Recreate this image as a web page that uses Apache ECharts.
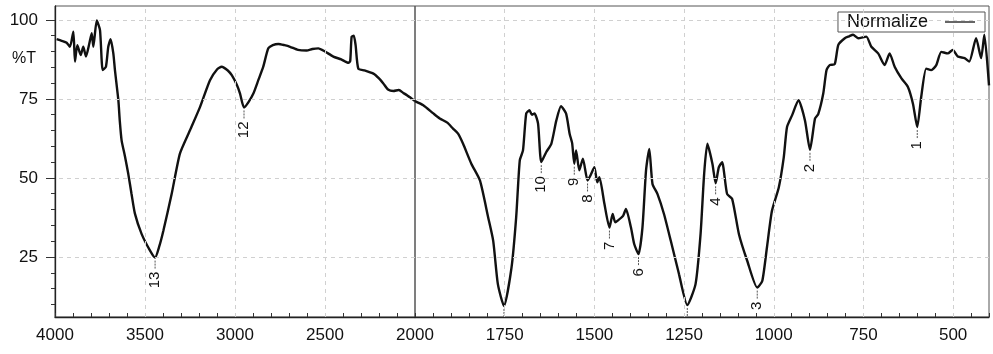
<!DOCTYPE html>
<html><head><meta charset="utf-8">
<script src="https://cdn.jsdelivr.net/npm/echarts@6/dist/echarts.min.js"></script>
<style>html,body{margin:0;padding:0;background:#fff}#c{width:993px;height:354px}</style>
</head><body><div id="c"></div>
<script>
// Wavenumber (cm-1) and %T, high-wavenumber part (4000-2000, compressed scale)
const wnHigh = [3991,3963,3935,3917,3898,3889,3876,3857,3843,3828,3809,3796,3787,3768,3750,3735,3717,3704,3691,3676,3667,3648,3640,3630,3612,3593,3575,3556,3519,3472,3444,3420,3398,3352,3306,3250,3194,3139,3100,3074,3040,3018,2990,2972,2950,2925,2898,2870,2843,2815,2790,2759,2725,2694,2650,2602,2570,2537,2500,2454,2410,2370,2360,2352,2340,2330,2315,2280,2231,2200,2176,2150,2120,2090,2065,2030,2000];
const tHigh = [93.9,93.4,92.8,91.5,96.3,86.8,92,88.9,91.5,88.4,92.6,95.8,91.5,99.8,96.8,84.1,85.2,91.5,93.9,89.4,84.1,74.6,68,61.9,57,51.3,45,38.7,32.3,27,24.8,28.5,33.3,44.9,57.7,65.1,72.5,80.9,84.3,85.2,84,82.5,79.5,76.7,72.3,74,76.7,81,85.2,91,92,92.4,92,91.5,90.5,90.3,90.8,91,90,88.4,87.5,86.4,87,94.7,95,92,84.6,84,83,81.5,79.9,78,77.5,77.8,76.9,75.6,74.3];
// Low-wavenumber part (2000-400, expanded scale)
const wnLow = [2000,1977,1950,1931,1910,1894,1880,1866,1843,1819,1796,1782,1769,1752,1731,1718,1708,1699,1690,1681,1674,1667,1657,1648,1634,1620,1606,1593,1579,1569,1562,1556,1551,1542,1532,1519,1510,1500,1492,1486,1472,1458,1449,1442,1435,1420,1412,1398,1389,1377,1366,1356,1347,1338,1324,1306,1287,1264,1241,1218,1204,1194,1185,1171,1162,1153,1144,1130,1116,1097,1074,1046,1032,1019,1005,986,972,963,949,931,913,899,885,876,862,853,844,830,820,802,790,779,765,742,728,709,691,677,663,644,626,612,600,589,575,561,547,533,515,501,487,468,455,436,422,413,400];
const tLow = [74.3,73,70.5,68.8,67.5,65.6,64,60.8,54.5,49.2,37.5,30.1,16.4,9.5,21.6,37.5,55.5,58.7,70.4,71.4,70,70.4,67.2,55,58.2,60.8,68.2,72.7,70.4,64,61,54.5,58.7,52.4,56.1,49.2,51,53.4,48.6,50.2,41.8,34.3,38.6,36,36.5,38,40.2,34.3,29.1,25.9,34.3,52.4,59.2,48.1,44.9,38.6,30.1,19.5,9.8,16.4,32.2,51.3,60.8,54.5,48.3,53.4,55,44.9,43.4,32.2,23.8,15.3,17.4,28,39.6,47,56.6,66.1,69.8,74.6,68.2,58.9,68.8,70.2,76.7,84.1,85.7,86,92.1,94.2,94.8,95.3,94.2,94.7,91.5,89.4,85.7,89.4,85.2,81.5,78.8,73.5,66.1,75.6,84.6,84.1,85.7,89.9,89.4,90.5,88.4,87.9,86.8,94.2,87.9,95.3,79.3];
// Numbered peaks
const peakWn = [600, 899, 1046, 1162, 1377, 1458, 1519, 1556, 1648, 2950, 3444];
const peakT = [66.1, 58.9, 15.3, 48.3, 25.9, 34.3, 49.2, 54.5, 55, 72.3, 24.8];
const peakLabel = ['1','2','3','4','6','7','8','9','10','12','13'];
// Marked peaks whose numbers fall below the axis
const hiddenWn = [1752, 1241];
const hiddenT = [9.5, 9.8];
// Axis ticks
const highLabels = [4000, 3500, 3000, 2500];
const lowLabels = [2000, 1750, 1500, 1250, 1000, 750, 500];
const yLabels = [25, 50, 75, 100];
const highTicks = []; for (let v = 2000; v <= 4000; v += 100) highTicks.push(v);
const lowTicks = []; for (let v = 400; v <= 2000; v += 50) lowTicks.push(v);
const yMinor = []; for (let v = 10; v <= 100; v += 5) yMinor.push(v);
const seriesName = 'Normalize';

const FONT = "'Liberation Sans', Arial, sans-serif";
const YMIN = 6, YMAX = 104.4;
const zip = (a, b) => a.map((v, i) => [v, b[i]]);

function peaksFor(lo, hi) {
  const out = [];
  peakWn.forEach((w, i) => { if (w >= lo && w <= hi) out.push([w, peakT[i], i]); });
  return out;
}
function hiddenFor(lo, hi) {
  const out = [];
  hiddenWn.forEach((w, i) => { if (w >= lo && w <= hi) out.push([w, hiddenT[i]]); });
  return out;
}
function renderPeak(params, api) {
  const p = api.coord([api.value(0), api.value(1)]);
  const txt = peakLabel[api.value(2)];
  const lead = 12;
  return { type: 'group', children: [
    { type: 'line', shape: { x1: p[0], y1: p[1] + 3, x2: p[0], y2: p[1] + lead },
      style: { stroke: '#555', lineWidth: 1, lineDash: [2, 1] } },
    { type: 'text', x: p[0], y: p[1] + lead + 2, rotation: Math.PI / 2,
      style: { text: txt, fontSize: 15, fontFamily: FONT, fill: '#111', align: 'right', verticalAlign: 'middle' } }
  ]};
}
function renderHidden(params, api) {
  const p = api.coord([api.value(0), api.value(1)]);
  const yb = params.coordSys.y + params.coordSys.height;
  return { type: 'line', shape: { x1: p[0], y1: p[1] + 3, x2: p[0], y2: yb },
    style: { stroke: '#555', lineWidth: 1, lineDash: [2, 1] } };
}
const gridLines = (xs) => ({
  silent: true, symbol: 'none', animation: false, label: { show: false },
  lineStyle: { color: '#d0d0d0', type: [4, 4], width: 1 },
  data: xs.map(v => ({ xAxis: v })).concat(yLabels.map(v => ({ yAxis: v })))
});

const chart = echarts.init(document.getElementById('c'), null, { renderer: 'canvas' });
const axisLbl = { fontSize: 17, fontFamily: FONT, color: '#111', formatter: v => String(v) };
const lineSeries = { type: 'line', symbol: 'none', smooth: 0.2,
  lineStyle: { color: '#111', width: 2.4 }, itemStyle: { color: '#111' } };
chart.setOption({
  animation: false,
  backgroundColor: '#fff',
  legend: {
    data: [seriesName], right: 8, top: 12, align: 'right', icon: 'rect',
    itemWidth: 30, itemHeight: 1.5, borderColor: '#555', borderWidth: 1,
    padding: [1, 10, 1, 9],
    itemStyle: { color: '#333', borderWidth: 0 },
    textStyle: { fontSize: 18, fontFamily: FONT, color: '#111', padding: [0, 12, 0, 0] }
  },
  graphic: [{ type: 'text', left: 12, top: 51, style: { text: '%T', fontSize: 16, fontFamily: FONT, fill: '#111' } }],
  grid: [
    { left: 55, width: 360, top: 6, bottom: 37, show: true, borderColor: '#555', borderWidth: 1, containLabel: false },
    { left: 415, right: 4, top: 6, bottom: 37, show: true, borderColor: '#555', borderWidth: 1, containLabel: false }
  ],
  xAxis: [
    { gridIndex: 0, type: 'value', min: 2000, max: 4000, inverse: true,
      axisLine: { show: true, lineStyle: { color: '#222', width: 1.3 } },
      axisTick: { show: true, inside: true, length: 4, customValues: highTicks, lineStyle: { color: '#333' } },
      axisLabel: { show: true, customValues: highLabels, margin: 10, showMinLabel: true, showMaxLabel: true, ...axisLbl },
      splitLine: { show: false } },
    { gridIndex: 1, type: 'value', min: 400, max: 2000, inverse: true,
      axisLine: { show: true, lineStyle: { color: '#222', width: 1.3 } },
      axisTick: { show: true, inside: true, length: 4, customValues: lowTicks, lineStyle: { color: '#333' } },
      axisLabel: { show: true, customValues: lowLabels, margin: 10, showMinLabel: true, showMaxLabel: true, ...axisLbl },
      splitLine: { show: false } }
  ],
  yAxis: [
    { gridIndex: 0, type: 'value', min: YMIN, max: YMAX, position: 'left',
      axisLine: { show: true, lineStyle: { color: '#222', width: 1.3 } },
      axisTick: { show: true, inside: false, length: 9, customValues: yLabels, lineStyle: { color: '#333' } },
      axisLabel: { show: true, customValues: yLabels, margin: 17, ...axisLbl },
      splitLine: { show: false } },
    { gridIndex: 0, type: 'value', min: YMIN, max: YMAX, position: 'left',
      axisLine: { show: false },
      axisTick: { show: true, inside: false, length: 4, customValues: yMinor, lineStyle: { color: '#333' } },
      axisLabel: { show: false }, splitLine: { show: false } },
    { gridIndex: 1, type: 'value', min: YMIN, max: YMAX,
      axisLine: { show: false }, axisTick: { show: false }, axisLabel: { show: false }, splitLine: { show: false } }
  ],
  series: [
    { ...lineSeries, name: seriesName, xAxisIndex: 0, yAxisIndex: 0, data: zip(wnHigh, tHigh),
      markLine: gridLines([3500, 3000, 2500]) },
    { ...lineSeries, name: seriesName, xAxisIndex: 1, yAxisIndex: 2, data: zip(wnLow, tLow),
      markLine: gridLines([1750, 1500, 1250, 1000, 750, 500]) },
    { type: 'custom', xAxisIndex: 0, yAxisIndex: 0, renderItem: renderPeak, data: peaksFor(2000, 4000), silent: true, clip: false },
    { type: 'custom', xAxisIndex: 1, yAxisIndex: 2, renderItem: renderPeak, data: peaksFor(400, 1999), silent: true, clip: false },
    { type: 'custom', xAxisIndex: 1, yAxisIndex: 2, renderItem: renderHidden, data: hiddenFor(400, 1999), silent: true, clip: false }
  ]
});
</script>
</body></html>
